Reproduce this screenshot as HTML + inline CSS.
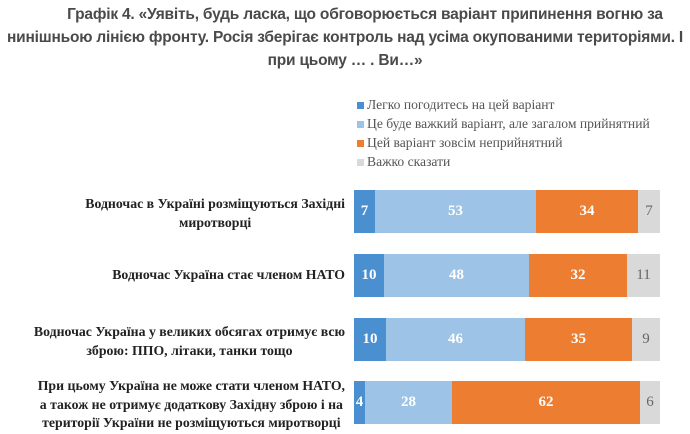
<!DOCTYPE html>
<html><head><meta charset="utf-8"><style>
body{margin:0;width:690px;height:434px;background:#fff;position:relative;overflow:hidden;font-family:"Liberation Serif",serif}
.t{position:absolute;left:0;width:690px;text-align:center;font-family:"Liberation Sans",sans-serif;font-weight:bold;font-size:15.5px;color:#4a4a4a;letter-spacing:-0.2px}
.lg{position:absolute;left:357px;font-size:13.6px;color:#555;white-space:nowrap}
.lg i{display:inline-block;width:7px;height:7px;margin-right:3px}
.lab{position:absolute;right:345px;text-align:center;font-weight:bold;font-size:13.8px;color:#222;line-height:18.5px;white-space:nowrap}
.b{position:absolute;height:43px;color:#fff;font-weight:bold;font-size:15px;display:flex;align-items:center;justify-content:center}
</style></head><body>
<div class="t" style="top:6px;padding-left:40px;width:650px">Графік 4. «Уявіть, будь ласка, що обговорюється варіант припинення вогню за</div>
<div class="t" style="top:29px">нинішньою лінією фронту. Росія зберігає контроль над усіма окупованими територіями. І</div>
<div class="t" style="top:52px">при цьому … . Ви…»</div>
<div class="lg" style="top:97px"><i style="background:#4a8fcf"></i>Легко погодитесь на цей варіант</div>
<div class="lg" style="top:116px"><i style="background:#9dc3e6"></i>Це буде важкий варіант, але загалом прийнятний</div>
<div class="lg" style="top:135px"><i style="background:#ed7d31"></i>Цей варіант зовсім неприйнятний</div>
<div class="lg" style="top:154px"><i style="background:#d9d9d9"></i>Важко сказати</div>

<div class="lab" style="top:195px">Водночас в Україні розміщуються Західні<br>миротворці</div>
<div class="lab" style="top:266px">Водночас Україна стає членом НАТО</div>
<div class="lab" style="top:323px">Водночас Україна у великих обсягах отримує всю<br>зброю: ППО, літаки, танки тощо</div>
<div class="lab" style="top:377px">При цьому Україна не може стати членом НАТО,<br>а також не отримує додаткову Західну зброю і на<br>території України не розміщуються миротворці</div>

<div class="b" style="top:190px;left:354px;width:21px;background:#4a8fcf">7</div>
<div class="b" style="top:190px;left:375px;width:161px;background:#9dc3e6">53</div>
<div class="b" style="top:190px;left:536px;width:102px;background:#ed7d31">34</div>
<div class="b" style="top:190px;left:638px;width:22px;background:#d9d9d9;color:#666;font-weight:normal">7</div>

<div class="b" style="top:254px;left:354px;width:30px;background:#4a8fcf">10</div>
<div class="b" style="top:254px;left:384px;width:145px;background:#9dc3e6">48</div>
<div class="b" style="top:254px;left:529px;width:98px;background:#ed7d31">32</div>
<div class="b" style="top:254px;left:627px;width:33px;background:#d9d9d9;color:#666;font-weight:normal">11</div>

<div class="b" style="top:318px;left:354px;width:32px;background:#4a8fcf">10</div>
<div class="b" style="top:318px;left:386px;width:139px;background:#9dc3e6">46</div>
<div class="b" style="top:318px;left:525px;width:107px;background:#ed7d31">35</div>
<div class="b" style="top:318px;left:632px;width:28px;background:#d9d9d9;color:#666;font-weight:normal">9</div>

<div class="b" style="top:381px;left:354px;width:11px;background:#4a8fcf">4</div>
<div class="b" style="top:381px;left:365px;width:87px;background:#9dc3e6">28</div>
<div class="b" style="top:381px;left:452px;width:188px;background:#ed7d31">62</div>
<div class="b" style="top:381px;left:640px;width:20px;background:#d9d9d9;color:#666;font-weight:normal">6</div>
</body></html>
